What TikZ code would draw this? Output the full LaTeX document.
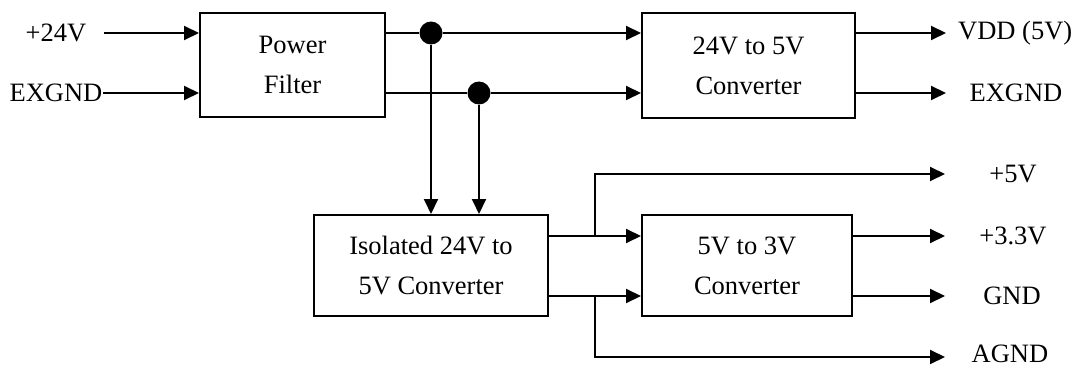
\documentclass[tikz,border=0pt]{standalone}
\usepackage{fontspec}
\setmainfont{Liberation Serif}
\usetikzlibrary{arrows.meta}
\begin{document}
\begin{tikzpicture}[x=1pt,y=-1pt,
  every node/.style={font=\fontsize{26.5}{40}\selectfont, inner sep=0pt},
  blk/.style={draw, line width=2pt, align=center},
  wire/.style={line width=2pt},
  conn/.style={line width=2pt, -{Triangle[length=15pt,width=14pt]}},
  dot/.style={circle, fill=black, minimum size=23pt, inner sep=0pt}]
\useasboundingbox (0,0) rectangle (1077,369);
% blocks
\node[blk, minimum width=185pt, minimum height=104pt] (pf) at (292.5,65) {Power\\Filter};
\node[blk, minimum width=213pt, minimum height=105pt] (conv) at (748.5,65.5) {24V to 5V\\Converter};
\node[blk, minimum width=234pt, minimum height=101pt] (iso) at (431,265.5) {Isolated 24V to\\5V Converter};
\node[blk, minimum width=210pt, minimum height=101pt] (c3) at (747,265.5) {5V to 3V\\Converter};
% input labels
\node (l24) at (56,33) {+24V};
\node (lex) at (56,93) {EXGND};
\coordinate (s24) at (104,33);
\coordinate (sex) at (103,93);
\draw[conn] (s24) -- (pf.west |- s24);
\draw[conn] (sex) -- (pf.west |- sex);
% junction dots
\node[dot] (d1) at (431,33) {};
\node[dot] (d2) at (479,93) {};
\draw[wire] (pf.east |- d1) -- (d1);
\draw[conn] (d1) -- (conv.west |- d1);
\draw[wire] (pf.east |- d2) -- (d2);
\draw[conn] (d2) -- (conv.west |- d2);
\draw[conn] (d1) -- (iso.north -| d1);
\draw[conn] (d2) -- (iso.north -| d2);
% converter outputs
\node[anchor=west] (lvdd) at (958,33) {VDD (5V)};
\node (lex2) at (1016,93) {EXGND};
\coordinate (tvdd) at (946,33);
\coordinate (tex2) at (946,93);
\draw[conn] (conv.east |- tvdd) -- (tvdd);
\draw[conn] (conv.east |- tex2) -- (tex2);
% isolated outputs
\coordinate (b1) at (595,236);
\coordinate (b2) at (595,296);
\draw[conn] (iso.east |- b1) -- (c3.west |- b1);
\draw[conn] (iso.east |- b2) -- (c3.west |- b2);
\node (l5) at (1013,174) {+5V};
\node (l33) at (1013,236) {+3.3V};
\node (lgnd) at (1012,296) {GND};
\node (lagnd) at (1010,354) {AGND};
\coordinate (t5) at (945,174);
\coordinate (t33) at (945,236);
\coordinate (tgnd) at (945,296);
\coordinate (tagnd) at (945,357);
\draw[conn] (b1) -- (b1 |- t5) -- (t5);
\draw[conn] (b2) -- (b2 |- tagnd) -- (tagnd);
\draw[conn] (c3.east |- t33) -- (t33);
\draw[conn] (c3.east |- tgnd) -- (tgnd);
\end{tikzpicture}
\end{document}
